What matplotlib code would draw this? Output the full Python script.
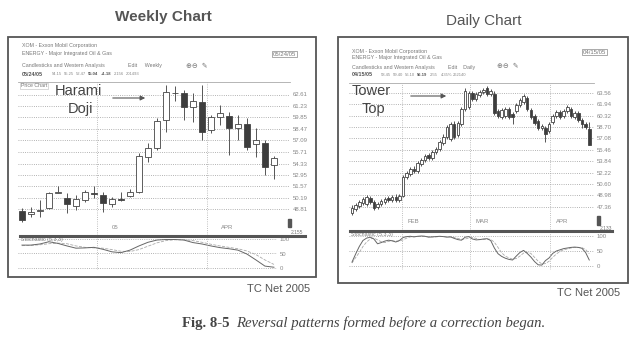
import matplotlib
matplotlib.use("Agg")
import matplotlib.pyplot as plt
from matplotlib.patches import Rectangle, FancyArrowPatch
from matplotlib.lines import Line2D
from matplotlib.transforms import blended_transform_factory

W, H = 641, 347

# weekly XOM candles
w_open = [48.67, 48.27, 48.63, 48.95, 50.79, 50.15, 49.27, 49.95, 50.79, 50.55,
          49.43, 50.03, 50.47, 50.87, 55.15, 56.15, 59.55, 62.75, 62.75, 61.07,
          61.75, 58.35, 59.95, 60.03, 58.55, 59.07, 56.67, 56.75, 54.15]
w_high = [48.99, 49.15, 49.95, 50.87, 51.63, 50.75, 50.55, 51.15, 51.63, 50.95,
          50.27, 50.95, 51.23, 55.55, 56.75, 59.75, 63.75, 63.63, 63.15, 62.75,
          63.75, 60.15, 61.35, 60.55, 60.15, 59.75, 58.55, 57.15, 55.25]
w_low = [47.31, 47.95, 47.91, 48.87, 50.75, 48.35, 48.75, 49.75, 50.15, 48.55,
         49.15, 49.79, 50.35, 50.75, 54.55, 55.95, 58.15, 61.87, 59.55, 59.37,
         57.15, 57.95, 58.95, 55.35, 57.15, 55.95, 55.15, 52.90, 52.47]
w_close = [47.55, 48.55, 48.75, 50.75, 50.87, 49.43, 50.03, 50.87, 50.71, 49.63,
           50.03, 49.91, 50.95, 55.23, 56.15, 59.47, 62.95, 62.79, 61.15, 61.87,
           58.15, 59.87, 60.35, 58.55, 59.07, 56.35, 57.15, 53.86, 55.04]
w_stoch_k = [80, 80, 84, 92, 86, 77, 69, 70, 72, 65, 56, 53, 62, 77, 90, 98, 100,
             100, 98, 89, 84, 77, 71, 67, 62, 48, 27, 5, 1]
w_stoch_d = [78, 79, 81, 85, 87, 85, 77, 72, 70, 69, 64, 58, 57, 64, 76, 88, 96,
             99, 99, 96, 90, 83, 77, 72, 67, 59, 46, 27, 11]
w_ticks = [62.61, 61.23, 59.85, 58.47, 57.09, 55.71, 54.33, 52.95, 51.57, 50.19, 48.81]
w_months = ["05", "APR"]
w_month_pos = [8.33, 20.56]
w_quote = ["54.15", "55.25", "52.47", "55.04", "+1.18", "2.156", "201493"]

# daily XOM candles
d_open = [46.53, 47.10, 47.52, 47.95, 47.81, 48.66, 48.10, 47.38, 47.81, 48.10,
          48.66, 48.38, 48.80, 48.38, 48.94, 51.64, 52.07, 52.78, 52.50, 53.49,
          54.06, 54.77, 54.34, 55.19, 55.62, 56.47, 57.32, 57.04, 59.17, 57.61,
          59.17, 61.30, 61.58, 63.57, 62.72, 63.29, 63.72, 64.28, 63.43, 63.43,
          61.02, 60.16, 60.30, 61.30, 60.59, 61.02, 61.87, 62.29, 62.86, 61.16,
          60.30, 59.60, 58.60, 58.60, 58.18, 59.45, 60.30, 60.87, 60.30, 61.02,
          61.30, 60.16, 60.73, 59.74, 59.17, 58.45]
d_high = [47.67, 47.95, 48.38, 48.80, 49.09, 48.94, 48.38, 48.10, 48.52, 48.80,
          48.94, 49.09, 49.23, 49.23, 51.93, 52.50, 53.06, 53.20, 53.92, 54.34,
          54.91, 55.05, 55.48, 55.90, 56.90, 57.75, 59.03, 59.45, 59.60, 59.60,
          61.58, 64.28, 63.86, 63.86, 63.72, 64.00, 64.28, 64.57, 64.14, 63.86,
          61.30, 61.44, 61.58, 61.58, 60.87, 62.15, 62.86, 63.43, 63.15, 61.44,
          60.59, 59.88, 59.17, 58.88, 59.45, 60.59, 61.16, 61.16, 61.30, 61.87,
          61.58, 61.02, 61.02, 60.02, 59.45, 59.40]
d_low = [46.25, 46.82, 47.24, 47.67, 47.52, 47.81, 46.96, 47.10, 47.52, 47.81,
         48.10, 48.10, 48.10, 48.10, 48.80, 51.36, 51.79, 52.21, 52.21, 53.20,
         53.77, 54.06, 54.06, 54.91, 55.34, 56.19, 57.04, 56.76, 57.04, 57.32,
         58.88, 61.02, 61.30, 62.44, 62.44, 63.00, 63.43, 63.15, 63.15, 60.45,
         60.02, 59.88, 60.02, 59.88, 59.17, 60.73, 61.58, 62.00, 61.02, 59.88,
         59.03, 58.32, 58.32, 56.62, 57.89, 59.17, 60.02, 59.88, 60.02, 60.73,
         60.02, 59.88, 59.45, 58.60, 58.46, 56.10]
d_close = [47.24, 47.67, 48.10, 48.52, 48.80, 48.10, 47.24, 47.81, 48.24, 48.52,
           48.38, 48.80, 48.38, 48.94, 51.64, 52.21, 52.78, 52.50, 53.63, 54.06,
           54.63, 54.34, 55.19, 55.62, 56.62, 57.32, 58.74, 59.17, 57.32, 59.31,
           61.30, 63.86, 63.57, 62.72, 63.43, 63.72, 64.00, 63.43, 63.86, 60.73,
           60.30, 61.16, 61.30, 60.16, 60.16, 61.87, 62.58, 63.15, 61.30, 60.16,
           59.31, 58.60, 58.88, 57.75, 59.17, 60.30, 60.87, 60.16, 61.02, 61.58,
           60.30, 60.73, 59.74, 59.17, 58.74, 56.19]
d_stoch_k = [13, 40, 65, 85, 93, 96, 90, 74, 78, 83, 86, 84, 80, 85, 95, 98, 99, 97,
             99, 100, 99, 96, 97, 98, 99, 98, 96, 97, 92, 88, 86, 96, 98, 90, 87, 88,
             90, 91, 85, 60, 41, 32, 26, 22, 20, 33, 45, 52, 42, 30, 15, 4, 3, 18,
             27, 42, 50, 54, 58, 60, 62, 63, 62, 59, 45, 20]
d_stoch_d = [10, 28, 45, 65, 80, 90, 93, 87, 81, 78, 82, 84, 83, 83, 87, 93, 97, 98,
             98, 99, 99, 98, 97, 97, 98, 98, 98, 97, 95, 92, 89, 90, 93, 95, 92, 88,
             88, 90, 89, 79, 62, 44, 33, 27, 23, 25, 33, 43, 46, 42, 29, 16, 7, 8,
             16, 29, 40, 49, 54, 57, 60, 62, 62, 61, 55, 41]
d_ticks = [63.56, 61.94, 60.32, 58.70, 57.08, 55.46, 53.84, 52.22, 50.60, 48.98, 47.36]
d_months = ["FEB", "MAR", "APR"]
d_month_pos = [13.7, 32.3, 54.2]
d_quote = ["58.45", "59.40", "56.10", "56.19", "2.55", "4.35%", "262140"]

plt.rcParams['font.family'] = ['Liberation Sans', 'DejaVu Sans']

fig = plt.figure(figsize=(W / 100, H / 100), dpi=100)
fig.patch.set_facecolor('white')


def px_axes(x0, y0, x1, y1):
    return fig.add_axes([x0 / W, 1 - y1 / H, (x1 - x0) / W, (y1 - y0) / H])


def ftext(x, y, s, **kw):
    kw.setdefault('color', '#777')
    kw.setdefault('fontsize', 3.8)
    kw.setdefault('va', 'center')
    fig.text(x / W, 1 - y / H, s, **kw)


def fbox(x0, y0, x1, y1, **kw):
    fig.add_artist(Rectangle((x0 / W, 1 - y1 / H), (x1 - x0) / W, (y1 - y0) / H,
                             transform=fig.transFigure, **kw))


def fline(x0, x1, y, **kw):
    fig.add_artist(Line2D([x0 / W, x1 / W], [1 - y / H, 1 - y / H], **kw))


def farrow(x0, x1, y):
    fig.add_artist(FancyArrowPatch((x0 / W, 1 - y / H), (x1 / W, 1 - y / H),
                                   transform=fig.transFigure, arrowstyle='-|>',
                                   mutation_scale=7, color='#555', lw=0.8))


def quote_line(x, y, date, values, xs, bold):
    ftext(x, y, date, fontsize=3.9, fontweight='bold', color='#555')
    for v, xv, b in zip(values, xs, bold):
        ftext(xv, y, v, fontsize=3.0, fontweight='bold' if b else 'normal',
              color='#555' if b else '#888')


def candles(ax, o, h, l, c, width):
    xs = range(len(o))
    ax.vlines(xs, l, h, color='#555', lw=0.7, zorder=2)
    for i in xs:
        up = c[i] >= o[i]
        ax.bar(i, max(abs(c[i] - o[i]), 0.06), bottom=min(o[i], c[i]), width=width,
               color='white' if up else '#3d3d3d', edgecolor='#444', lw=0.6, zorder=3)


def style_price(ax, ticks, xlim, ylim, vpos, months, mfrac):
    ax.set_xlim(*xlim)
    ax.set_ylim(*ylim)
    ax.set_xticks([])
    ax.yaxis.tick_right()
    ax.set_yticks(ticks)
    ax.set_yticklabels([f"{t:.2f}" for t in ticks])
    ax.tick_params(axis='y', length=0, pad=2, labelsize=4.3, labelcolor='#888')
    ax.grid(axis='y', linestyle=':', color='#9a9a9a', lw=0.6)
    for s in ['left', 'right', 'bottom']:
        ax.spines[s].set_visible(False)
    ax.spines['top'].set_color('#aaa')
    ax.spines['top'].set_linewidth(0.6)
    for v in vpos:
        ax.axvline(v, color='#aaa', ls=':', lw=0.6, zorder=1)
    tr = blended_transform_factory(ax.transData, ax.transAxes)
    for v, m in zip(vpos, months):
        ax.text(v + 1.6, mfrac, m, transform=tr, fontsize=4.3, color='#888', va='center')
    ax.set_facecolor('none')


def style_stoch(ax, k, d, xlim, ylim, vpos):
    xs = range(len(k))
    ax.plot(xs, d, color='#aaa', lw=0.6, ls='--')
    ax.plot(xs, k, color='#666', lw=0.7)
    ax.set_xlim(*xlim)
    ax.set_ylim(*ylim)
    ax.set_xticks([])
    ax.yaxis.tick_right()
    ax.set_yticks([0, 50, 100])
    ax.tick_params(axis='y', length=0, pad=2, labelsize=4.3, labelcolor='#888')
    ax.grid(axis='y', linestyle=':', color='#9a9a9a', lw=0.6)
    for s in ax.spines.values():
        s.set_visible(False)
    for v in vpos:
        ax.axvline(v, color='#aaa', ls=':', lw=0.6)
    ax.text(0.01, 0.93, "Stochastic (5,3,3)", transform=ax.transAxes, fontsize=3.8,
            color='#777', va='center')
    ax.set_facecolor('none')


# ---- weekly panel ----
fbox(8, 37, 316, 277, fill=False, ec='#555', lw=1.3)
ftext(163, 17, "Weekly Chart", fontsize=11, fontweight='bold', color='#555', ha='center')
ftext(22, 45, "XOM - Exxon Mobil Corporation")
ftext(22, 53, "ENERGY - Major Integrated Oil & Gas")
ftext(22, 66, "Candlesticks and Western Analysis")
ftext(128, 66, "Edit     Weekly")
ftext(186, 66, "\u2295\u2296  \u270e", fontsize=5)
quote_line(22, 74, "05/24/05", w_quote, [52, 64, 76, 88, 101, 114, 126],
           [False, False, False, True, True, False, False])
ftext(273, 54, "05/24/05", fontsize=4.3, bbox=dict(fc='white', ec='#888', lw=0.5, pad=0.6))

axw = px_axes(18, 82, 290, 235)
candles(axw, w_open, w_high, w_low, w_close, 0.75)
style_price(axw, w_ticks, (-0.44, 29.78), (45.75, 64.11), w_month_pos, w_months, 0.052)
axw.text(0.01, 0.975, "Price Chart", transform=axw.transAxes, fontsize=3.8, color='#777',
         va='center', bbox=dict(fc='white', ec='#bbb', lw=0.4, pad=0.4))
fline(20, 305, 236, color='#555', lw=2.2)
fbox(288, 219, 291, 227, color='#555')
ftext(291, 232, "2.155", fontsize=3.6)

axws = px_axes(18, 237, 277, 270)
style_stoch(axws, w_stoch_k, w_stoch_d, (-0.44, 28.34), (-8.9, 108.9), w_month_pos)

ftext(55, 91, "Harami", fontsize=10.5, color='#444')
ftext(68, 109, "Doji", fontsize=10.5, color='#444')
farrow(110, 148, 98)
ftext(247, 289, "TC Net 2005", fontsize=8, color='#555')

# ---- daily panel ----
fbox(338, 37, 628, 283, fill=False, ec='#555', lw=1.3)
ftext(484, 21, "Daily Chart", fontsize=11, color='#555', ha='center')
ftext(352, 51, "XOM - Exxon Mobil Corporation")
ftext(352, 58, "ENERGY - Major Integrated Oil & Gas")
ftext(352, 67, "Candlesticks and Western Analysis")
ftext(448, 67, "Edit    Daily")
ftext(497, 67, "\u2295\u2296  \u270e", fontsize=5)
quote_line(352, 75, "04/15/05", d_quote, [381, 393, 405, 417, 430, 441, 453],
           [False, False, False, True, False, False, False])
ftext(583, 52, "04/15/05", fontsize=4.3, bbox=dict(fc='white', ec='#888', lw=0.5, pad=0.6))

axd = px_axes(349, 83, 594, 230.5)
candles(axd, d_open, d_high, d_low, d_close, 0.7)
style_price(axd, d_ticks, (-0.82, 66.3), (43.98, 64.94), d_month_pos, d_months, 0.058)
fline(350, 612, 231, color='#555', lw=2.2)
fbox(597, 216, 600, 225, color='#555')
ftext(600, 228, "2.133", fontsize=3.6)

axds = px_axes(349, 232, 594, 270)
style_stoch(axds, d_stoch_k, d_stoch_d, (-0.82, 66.3), (-13.3, 113.3), d_month_pos)

ftext(352, 91, "Tower", fontsize=10.5, color='#444')
ftext(362, 109, "Top", fontsize=10.5, color='#444')
farrow(408, 449, 96)
ftext(557, 293, "TC Net 2005", fontsize=8, color='#555')

# ---- caption ----
ftext(182, 323, "Fig. 8-5", fontsize=10.6, fontweight='bold', color='#444',
      family=['Liberation Serif', 'DejaVu Serif'])
ftext(236, 323, "Reversal patterns formed before a correction began.", fontsize=10.6,
      style='italic', color='#444', family=['Liberation Serif', 'DejaVu Serif'])

fig.savefig("out.png", dpi=100)
